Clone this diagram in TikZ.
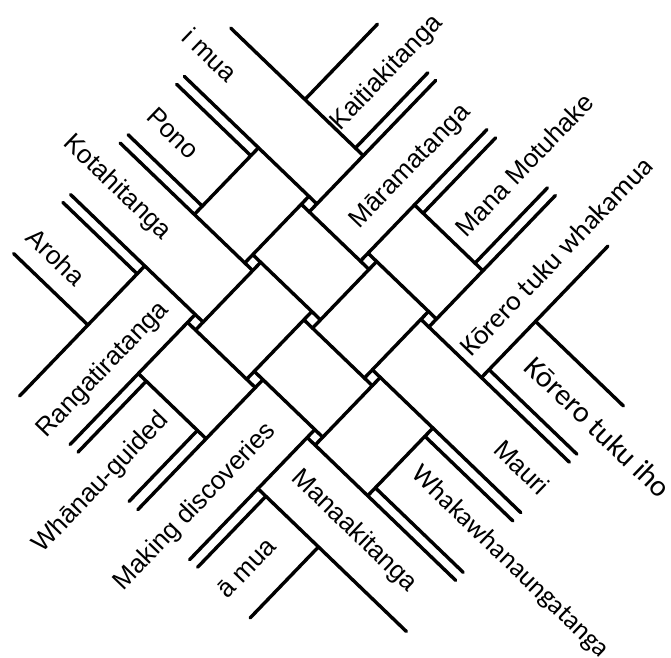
\documentclass[tikz,border=0pt]{standalone}
\usepackage{fontspec}
\setmainfont{Liberation Sans}
\newfontfamily\calfont{Carlito}
\tikzset{
  edge/.style={line width=3.4pt, line cap=round},
  lab/.style={font=\fontsize{26}{30}\selectfont, inner sep=0pt},
  labk/.style={font=\calfont\fontsize{#1}{30}\selectfont, inner sep=0pt},
  dn/.style={rotate=-43.9},
  up/.style={rotate=46.1},
}
\begin{document}
\begin{tikzpicture}[x=1pt,y=1pt]
\useasboundingbox (0,0) rectangle (671,-657);
\fill[white] (0,0) rectangle (671,-657);
\begin{scope}[shift={(312,-320)}, rotate=-43.9, edge]
 \foreach \b in {154,87,-5.5,-77}{
   \draw (-261,\b) -- (-77,\b);
   \draw (-6,\b) -- (89,\b);
   \draw (162,\b) -- (284,\b);
 }
 \foreach \b in {76,6,-88,-159}{
   \draw (-261,\b) -- (-158,\b);
   \draw (-88,\b) -- (6,\b);
   \draw (78,\b) -- (284,\b);
 }
 \foreach \a in {-158,-88,6,78}{
   \draw (\a,154) -- (\a,258.5);
   \draw (\a,-5.5) -- (\a,87);
   \draw (\a,-257.5) -- (\a,-77);
 }
 \foreach \a in {-77,-6,89,162}{
   \draw (\a,76) -- (\a,258.5);
   \draw (\a,-88) -- (\a,6);
   \draw (\a,-257.5) -- (\a,-159);
 }
\end{scope}
\node[lab,dn] (imua) at (210,-55) {i mua};
\node[lab,up] (kait) at (387,-73) {Kaitiakitanga};
\node[lab,dn] (pono) at (173,-133) {Pono};
\node[lab,up] (mara) at (411,-167) {Māramatanga};
\node[lab,dn] (kota) at (117,-188) {Kotahitanga};
\node[lab,up] (mana) at (524,-165) {Mana Motuhake};
\node[lab,dn] (aroha) at (56,-257) {Aroha};
\node[labk=28,up] (ktw) at (556,-256) {Kōrero tuku whakamua};
\node[lab,up] (rang) at (103,-370) {Rangatiratanga};
\node[lab,up] (whan) at (101,-483) {Whānau-guided};
\node[lab,up] (mak) at (195,-507) {Making discoveries};
\node[lab,up] (amua) at (246,-568) {ā mua};
\node[lab,dn] (manaa) at (354,-531) {Manaakitanga};
\node[labk=27,dn] (whak) at (510,-562) {Whakawhanaungatanga};
\node[lab,dn] (mauri) at (522,-467) {Mauri};
\node[labk=30,dn] (kti) at (598,-427) {Kōrero tuku iho};
\end{tikzpicture}
\end{document}
